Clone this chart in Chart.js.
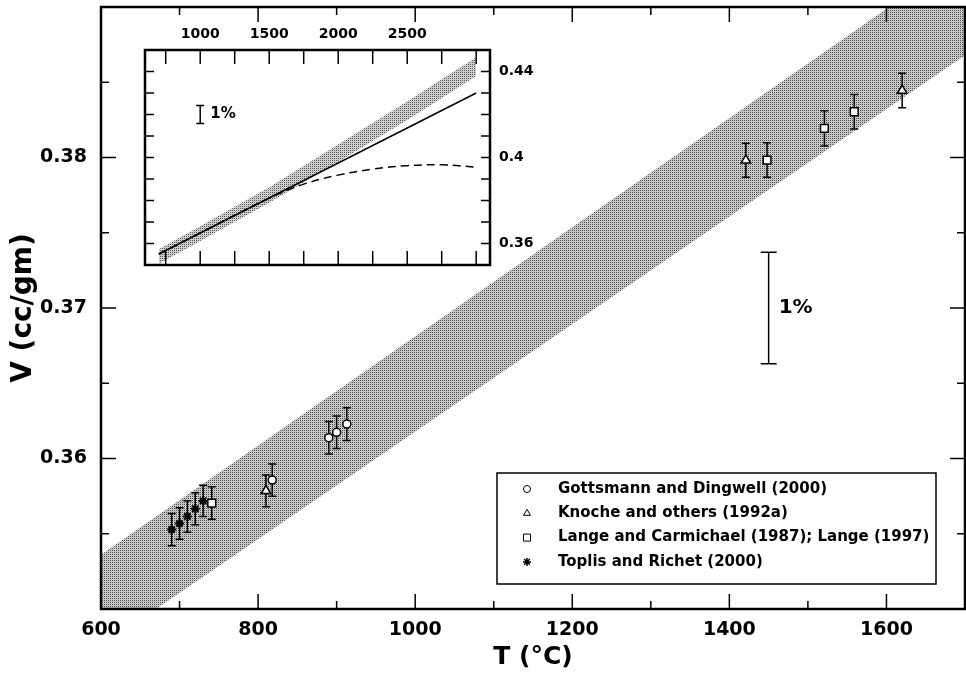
<!DOCTYPE html>
<html>
<head>
<meta charset="utf-8">
<script src="https://cdn.jsdelivr.net/npm/chart.js@4.4.1/dist/chart.umd.min.js"></script>
<style>
  html, body { margin: 0; padding: 0; background: #fff; }
  #wrap { position: relative; width: 966px; height: 675px; }
  #mainChart { position: absolute; left: 0; top: 0; }
  #insetChart { position: absolute; left: 130px; top: 20px; }
</style>
</head>
<body>
<div id="wrap">
  <canvas id="mainChart" width="966" height="675"></canvas>
  <canvas id="insetChart" width="415" height="255"></canvas>
</div>
<script>
// ---- main plot data (T in °C, V in cc/gm) ----
const gdT = [818, 890, 900, 913];             // Gottsmann and Dingwell (2000)
const gdV = [0.35857, 0.36138, 0.36174, 0.36229];
const gdErr = [0.00107, 0.00108, 0.00108, 0.00109];

const knT = [810, 1421, 1620];                // Knoche and others (1992a)
const knV = [0.35785, 0.37981, 0.38445];
const knErr = [0.00105, 0.00113, 0.00114];

const lcT = [741, 1448, 1521, 1559];          // Lange and Carmichael; Lange
const lcV = [0.35704, 0.37983, 0.38194, 0.38304];
const lcErr = [0.00108, 0.00115, 0.00117, 0.00115];

const trT = [690, 700, 710, 720, 730];        // Toplis and Richet (2000)
const trV = [0.35528, 0.35568, 0.35615, 0.35666, 0.35718];
const trErr = [0.00107, 0.00105, 0.00105, 0.00107, 0.00104];

const bandT = [600, 1700];                    // model uncertainty band
const bandUpper = [0.3536, 0.3935];
const bandLower = [0.3475, 0.3868];

const mainXTicks = [600, 800, 1000, 1200, 1400, 1600];
const mainYTicks = [0.36, 0.37, 0.38];

// 1% scale bar
const pctT = 1450, pctV = 0.37, pct = 0.01;

// ---- inset data ----
const insetBandT = [700, 1000, 1500, 2000, 2500, 3000];
const insetBandUpper = [0.3573, 0.3680, 0.3862, 0.4060, 0.4260, 0.4466];
const insetBandLower = [0.3506, 0.3612, 0.3790, 0.3980, 0.4175, 0.4379];
const insetSolidT = [700, 3000];
const insetSolidV = [0.3551, 0.4300];
const insetDashT = [700, 1000, 1500, 1750, 2000, 2250, 2500, 2750, 3000];
const insetDashV = [0.3551, 0.3649, 0.3811, 0.3876, 0.3918, 0.3946, 0.3962, 0.3966, 0.3955];
const insetXTicks = [1000, 1500, 2000, 2500];
const insetYTicks = [0.36, 0.4, 0.44];
const insetPctT = 1000, insetPctV = 0.42;

const FONT = "'DejaVu Sans', 'Liberation Sans', Arial, sans-serif";

function pts(xs, ys) { return xs.map((x, i) => ({ x: x, y: ys[i] })); }

function stipple(dark, mid, light) {
  const c = document.createElement('canvas');
  c.width = 2; c.height = 2;
  const g = c.getContext('2d');
  g.fillStyle = light; g.fillRect(0, 0, 2, 2);
  g.fillStyle = mid; g.fillRect(1, 1, 1, 1);
  g.fillStyle = dark; g.fillRect(0, 0, 1, 1);
  return g.createPattern(c, 'repeat');
}

// keep the plot frame where it is: no automatic label padding
function noPad(s) { s.paddingTop = 0; s.paddingBottom = 0; s.paddingLeft = 0; s.paddingRight = 0; }

// inward ticks on all four sides + frame
function frameAndTicks(chart, cfg) {
  const { ctx, chartArea: a, scales: { x, y } } = chart;
  ctx.save();
  ctx.strokeStyle = '#000';
  ctx.lineWidth = cfg.tickWidth;
  ctx.beginPath();
  const x0 = Math.ceil(x.min / cfg.xStep);
  const x1 = Math.floor(x.max / cfg.xStep);
  for (let k = x0; k <= x1; k++) {
    const v = k * cfg.xStep;
    if (v <= x.min || v >= x.max) continue;
    const px = x.getPixelForValue(v);
    const len = (Math.abs(v / cfg.xMajor - Math.round(v / cfg.xMajor)) < 1e-6) ? cfg.xMajorLen : cfg.xMinorLen;
    ctx.moveTo(px, a.bottom); ctx.lineTo(px, a.bottom - len);
    ctx.moveTo(px, a.top); ctx.lineTo(px, a.top + len);
  }
  const ny = Math.round((y.max - y.min) / cfg.yStep);
  for (let k = 1; k < ny; k++) {
    const v = y.min + k * cfg.yStep;
    const py = y.getPixelForValue(v);
    const len = (Math.abs(v / cfg.yMajor - Math.round(v / cfg.yMajor)) < 1e-6) ? cfg.yMajorLen : cfg.yMinorLen;
    ctx.moveTo(a.left, py); ctx.lineTo(a.left + len, py);
    ctx.moveTo(a.right, py); ctx.lineTo(a.right - len, py);
  }
  ctx.stroke();
  ctx.lineWidth = cfg.frameWidth;
  ctx.strokeRect(a.left, a.top, a.right - a.left, a.bottom - a.top);
  ctx.restore();
}

function pctBar(chart, T, V, frac, cap, size) {
  const { ctx, scales: { x, y } } = chart;
  const px = x.getPixelForValue(T);
  const y1 = y.getPixelForValue(V * (1 + frac));
  const y2 = y.getPixelForValue(V * (1 - frac));
  ctx.save();
  ctx.strokeStyle = '#000'; ctx.lineWidth = 1.5;
  ctx.beginPath();
  ctx.moveTo(px, y1); ctx.lineTo(px, y2);
  ctx.moveTo(px - cap, y1); ctx.lineTo(px + cap, y1);
  ctx.moveTo(px - cap, y2); ctx.lineTo(px + cap, y2);
  ctx.stroke();
  ctx.fillStyle = '#000';
  ctx.font = 'bold ' + size + 'px ' + FONT;
  ctx.textAlign = 'left'; ctx.textBaseline = 'middle';
  ctx.fillText('1%', px + 10, (y1 + y2) / 2);
  ctx.restore();
}

const mainPlugin = {
  id: 'mainDecor',
  afterDatasetDraw(chart, args) {
    // error bars, drawn right after the band so markers sit on top
    if (args.index !== 4) return;
    const { ctx, scales: { y } } = chart;
    ctx.save();
    ctx.strokeStyle = '#000'; ctx.lineWidth = 1.5;
    ctx.beginPath();
    chart.data.datasets.forEach((ds, i) => {
      if (!ds.errors) return;
      chart.getDatasetMeta(i).data.forEach((el, j) => {
        const v = ds.data[j].y, e = ds.errors[j];
        const t = y.getPixelForValue(v + e), b = y.getPixelForValue(v - e);
        ctx.moveTo(el.x, t); ctx.lineTo(el.x, b);
        ctx.moveTo(el.x - 4, t); ctx.lineTo(el.x + 4, t);
        ctx.moveTo(el.x - 4, b); ctx.lineTo(el.x + 4, b);
      });
    });
    ctx.stroke();
    ctx.restore();
  },
  afterDraw(chart) {
    frameAndTicks(chart, {
      tickWidth: 1.5, frameWidth: 2.5,
      xStep: 100, xMajor: 200, xMajorLen: 15, xMinorLen: 8,
      yStep: 0.005, yMajor: 0.01, yMajorLen: 15, yMinorLen: 8
    });
    pctBar(chart, pctT, pctV, pct, 8, 20);

    // legend box
    const ctx = chart.ctx;
    const series = chart.data.datasets.filter(d => d.errors);
    const bx = 497, by = 473, bw = 439, bh = 111;
    ctx.save();
    ctx.fillStyle = '#fff';
    ctx.fillRect(bx, by, bw, bh);
    ctx.strokeStyle = '#000'; ctx.lineWidth = 1.5;
    ctx.strokeRect(bx, by, bw, bh);
    ctx.font = 'bold 15px ' + FONT;
    ctx.textBaseline = 'middle'; ctx.textAlign = 'left';
    series.forEach((ds, i) => {
      const ry = by + 16 + i * 24.3;
      ctx.fillStyle = ds.pointStyle === 'star' ? '#000' : '#fff';
      ctx.strokeStyle = '#000'; ctx.lineWidth = ds.pointStyle === 'star' ? 1.5 : 1;
      Chart.helpers.drawPoint(ctx, {
        pointStyle: ds.pointStyle, radius: ds.legendRadius, borderWidth: 1, rotation: 0
      }, bx + 30, ry);
      ctx.fillStyle = '#000';
      ctx.fillText(ds.label, bx + 61, ry);
    });
    ctx.restore();
  }
};

const tickFont = { family: FONT, size: 19, weight: 'bold' };

new Chart(document.getElementById('mainChart'), {
  type: 'scatter',
  data: {
    datasets: [
      { label: 'Gottsmann and Dingwell (2000)', data: pts(gdT, gdV), errors: gdErr,
        pointStyle: 'circle', pointRadius: 4, legendRadius: 3.5, backgroundColor: '#fff',
        borderColor: '#000', borderWidth: 1.5 },
      { label: 'Knoche and others (1992a)', data: pts(knT, knV), errors: knErr,
        pointStyle: 'triangle', pointRadius: 5.5, legendRadius: 4, backgroundColor: '#fff',
        borderColor: '#000', borderWidth: 1.5 },
      { label: 'Lange and Carmichael (1987); Lange (1997)', data: pts(lcT, lcV), errors: lcErr,
        pointStyle: 'rect', pointRadius: 5.5, legendRadius: 5, backgroundColor: '#fff',
        borderColor: '#000', borderWidth: 1.5 },
      { label: 'Toplis and Richet (2000)', data: pts(trT, trV), errors: trErr,
        pointStyle: 'star', pointRadius: 4.5, legendRadius: 4, backgroundColor: '#000',
        borderColor: '#000', borderWidth: 2 },
      { label: 'band upper', data: pts(bandT, bandUpper), showLine: true, pointRadius: 0,
        borderWidth: 0, borderColor: 'rgba(0,0,0,0)', fill: '+1',
        backgroundColor: stipple('#4c4c4c', '#bcbcbc', '#d0d0d0') },
      { label: 'band lower', data: pts(bandT, bandLower), showLine: true, pointRadius: 0,
        borderWidth: 0, borderColor: 'rgba(0,0,0,0)', fill: false }
    ]
  },
  options: {
    responsive: false,
    animation: false,
    devicePixelRatio: 1,
    layout: { autoPadding: false, padding: { top: 7, right: 1, left: 0, bottom: 0 } },
    plugins: { legend: { display: false }, tooltip: { enabled: false } },
    scales: {
      x: {
        type: 'linear', min: 600, max: 1700,
        grid: { display: false, drawTicks: false },
        border: { display: false },
        afterBuildTicks: s => { s.ticks = mainXTicks.map(v => ({ value: v })); },
        afterFit: s => { s.height = 66; noPad(s); },
        ticks: { padding: 10, font: tickFont, color: '#000', maxRotation: 0, autoSkip: false,
                 callback: v => String(v) },
        title: { display: true, text: 'T (°C)', color: '#000',
                 font: { family: FONT, size: 25, weight: 'bold' }, padding: { top: 0, bottom: 3 } }
      },
      y: {
        type: 'linear', min: 0.35, max: 0.39,
        grid: { display: false, drawTicks: false },
        border: { display: false },
        afterBuildTicks: s => { s.ticks = mainYTicks.map(v => ({ value: v })); },
        afterFit: s => { s.width = 101; noPad(s); },
        ticks: { padding: 14, font: tickFont, color: '#000', autoSkip: false,
                 callback: v => String(v) },
        title: { display: true, text: 'V (cc/gm)', color: '#000',
                 font: { family: FONT, size: 28, weight: 'bold' }, padding: { top: 7, bottom: 0 } }
      }
    }
  },
  plugins: [mainPlugin]
});

// ---- inset ----
const insetPlugin = {
  id: 'insetDecor',
  beforeDatasetsDraw(chart) {
    const { ctx, chartArea: a } = chart;
    ctx.save();
    ctx.fillStyle = '#fff';
    ctx.fillRect(a.left, a.top, a.right - a.left, a.bottom - a.top);
    ctx.restore();
  },
  afterDraw(chart) {
    frameAndTicks(chart, {
      tickWidth: 1.5, frameWidth: 2.5,
      xStep: 250, xMajor: 250, xMajorLen: 14, xMinorLen: 14,
      yStep: 0.01, yMajor: 0.01, yMajorLen: 9, yMinorLen: 9
    });
    pctBar(chart, insetPctT, insetPctV, pct, 4, 15);
  }
};

const insetFont = { family: FONT, size: 14, weight: 'bold' };

new Chart(document.getElementById('insetChart'), {
  type: 'scatter',
  data: {
    datasets: [
      { label: 'solid', data: pts(insetSolidT, insetSolidV), showLine: true, pointRadius: 0,
        borderColor: '#000', borderWidth: 1.5, fill: false },
      { label: 'dashed', data: pts(insetDashT, insetDashV), showLine: true, pointRadius: 0,
        borderColor: '#000', borderWidth: 1.5, borderDash: [8, 5], tension: 0.4, fill: false },
      { label: 'band upper', data: pts(insetBandT, insetBandUpper), showLine: true, pointRadius: 0,
        borderWidth: 0, borderColor: 'rgba(0,0,0,0)', fill: '+1',
        backgroundColor: stipple('#555555', '#c4c4c4', '#d6d6d6') },
      { label: 'band lower', data: pts(insetBandT, insetBandLower), showLine: true, pointRadius: 0,
        borderWidth: 0, borderColor: 'rgba(0,0,0,0)', fill: false }
    ]
  },
  options: {
    responsive: false,
    animation: false,
    devicePixelRatio: 1,
    layout: { autoPadding: false, padding: { top: 0, right: 0, left: 15, bottom: 10 } },
    plugins: { legend: { display: false }, tooltip: { enabled: false } },
    scales: {
      x: {
        type: 'linear', position: 'top', min: 600, max: 3100,
        grid: { display: false, drawTicks: false },
        border: { display: false },
        afterBuildTicks: s => { s.ticks = insetXTicks.map(v => ({ value: v })); },
        afterFit: s => { s.height = 30; noPad(s); },
        ticks: { padding: 7, font: insetFont, color: '#000', maxRotation: 0, autoSkip: false,
                 callback: v => String(v) }
      },
      y: {
        type: 'linear', position: 'right', min: 0.35, max: 0.45,
        grid: { display: false, drawTicks: false },
        border: { display: false },
        afterBuildTicks: s => { s.ticks = insetYTicks.map(v => ({ value: v })); },
        afterFit: s => { s.width = 55; noPad(s); },
        ticks: { padding: 9, font: insetFont, color: '#000', autoSkip: false,
                 callback: v => String(v) }
      }
    }
  },
  plugins: [insetPlugin]
});
</script>
</body>
</html>
